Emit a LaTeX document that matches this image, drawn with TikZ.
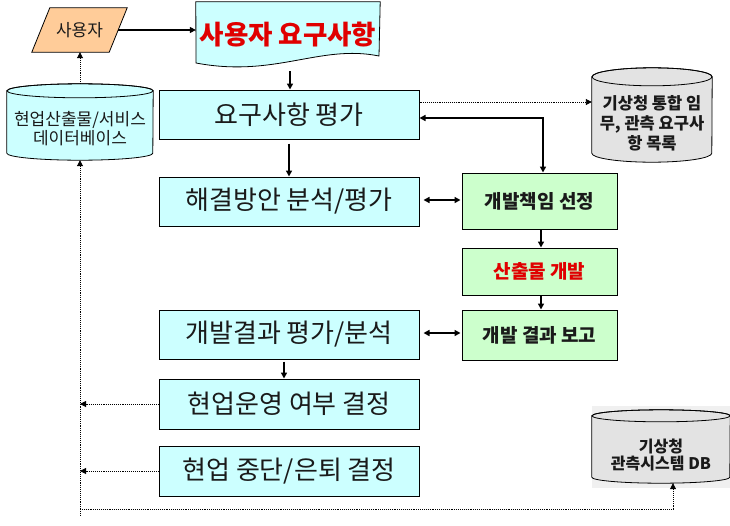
\documentclass[tikz,border=0pt]{standalone}
\usepackage{fontspec}
\setmainfont{Noto Sans CJK KR}
\usetikzlibrary{arrows.meta,backgrounds,calc}
\definecolor{cyanfill}{HTML}{CCFFFF}
\definecolor{greenfill}{HTML}{CCFFCC}
\definecolor{peach}{HTML}{FFCC99}
\definecolor{grayfill}{HTML}{E3E3E3}
\definecolor{redtext}{HTML}{E00000}
\definecolor{txt}{HTML}{1A1A1A}
\tikzset{
  box/.style={draw=black,line width=1pt,fill=cyanfill,inner sep=0pt,text=txt,font=\fontsize{26}{28}\selectfont},
  gbox/.style={draw=black,line width=1pt,fill=greenfill,inner sep=0pt,text=txt,font=\bfseries\fontsize{19}{21}\selectfont},
  plain/.style={inner sep=0pt,align=center,text=txt},
  arr/.style={line width=1.6pt,-{Triangle[length=6pt,width=6pt]}},
  darr/.style={line width=1.6pt,{Triangle[length=6pt,width=6pt]}-{Triangle[length=6pt,width=6pt]}},
  dotarr/.style={line width=0.9pt,densely dotted,-{Triangle[length=6pt,width=6pt]}},
  dotline/.style={line width=0.9pt,densely dotted},
}
\begin{document}
\begin{tikzpicture}[x=1pt,y=-1pt]
\useasboundingbox (0,0) rectangle (730,525);
% nodes
\node[plain,minimum width=95pt,minimum height=44pt,font=\fontsize{17}{19}\selectfont] (u) at (79.5,30) {사용자};
\node[plain,minimum width=184pt,minimum height=66pt,font=\bfseries\fontsize{26.5}{28}\selectfont,text=redtext] (doc) at (288,35) {\raisebox{3pt}{사용자 요구사항}};
\node[box,minimum width=260pt,minimum height=49pt] (req) at (289,114.5) {요구사항 평가};
\node[box,minimum width=260pt,minimum height=49pt] (sol) at (289,201.5) {해결방안 분석/평가};
\node[box,minimum width=260pt,minimum height=49pt] (evl) at (289,334.5) {개발결과 평가/분석};
\node[box,minimum width=260pt,minimum height=50pt] (opr) at (289,404) {현업운영 여부 결정};
\node[box,minimum width=260pt,minimum height=50pt] (stp) at (289,471) {현업 중단/은퇴 결정};
\node[gbox,minimum width=155pt,minimum height=56pt] (resp) at (539.5,201) {개발책임 선정};
\node[gbox,minimum width=155pt,minimum height=47pt,text=redtext] (prod) at (539.5,271.5) {산출물 개발};
\node[gbox,minimum width=155pt,minimum height=50pt] (rep) at (539.5,335) {개발 결과 보고};
\node[plain,minimum width=146pt,minimum height=76pt] (db1) at (80,122) {};
\node[plain,minimum width=120pt,minimum height=94pt] (db2) at (652,115) {};
\node[plain,minimum width=138pt,minimum height=73pt] (db3) at (661,446.5) {};
% shapes behind
\begin{scope}[on background layer]
  \fill[peach,draw=black,line width=0.8pt] ([xshift=18pt]u.north west) -- (u.north east) -- ([xshift=-18pt]u.south east) -- (u.south west) -- cycle;
  \draw[fill=cyanfill,line width=0.8pt] (doc.north west) -- (doc.north east) -- (379,56) .. controls (320,44) and (275,78) .. (196,63) -- cycle;
  % cylinder db1
  \draw[fill=cyanfill,line width=0.8pt] ([yshift=-7pt]db1.north west) -- ([yshift=7pt]db1.south west) arc[start angle=180,end angle=360,x radius=73pt,y radius=7pt] -- ([yshift=-7pt]db1.north east) arc[start angle=0,end angle=180,x radius=73pt,y radius=7pt] -- cycle;
  \draw[line width=0.8pt] ([yshift=-7pt]db1.north) ellipse[x radius=73pt,y radius=7pt];
  % cylinder db2
  \draw[fill=grayfill,line width=0.8pt] ([yshift=-9pt]db2.north west) -- ([yshift=9pt]db2.south west) arc[start angle=180,end angle=360,x radius=60pt,y radius=9pt] -- ([yshift=-9pt]db2.north east) arc[start angle=0,end angle=180,x radius=60pt,y radius=9pt] -- cycle;
  \draw[line width=0.8pt] ([yshift=-9pt]db2.north) ellipse[x radius=60pt,y radius=9pt];
  % cylinder db3
  \fill[black!6] (592,406) rectangle (730,488);
  \draw[fill=grayfill,line width=0.8pt] ([yshift=-6pt]db3.north west) -- ([yshift=6pt]db3.south west) arc[start angle=180,end angle=360,x radius=69pt,y radius=6pt] -- ([yshift=-6pt]db3.north east) arc[start angle=0,end angle=180,x radius=69pt,y radius=6pt] -- cycle;
  \draw[line width=0.8pt] ([yshift=-6pt]db3.north) ellipse[x radius=69pt,y radius=6pt];
\end{scope}
% cylinder labels
\node[plain,font=\fontsize{17}{19}\selectfont] (db1t) at ([yshift=-7pt]db1.center) {현업산출물/서비스\\데이터베이스};
\node[plain,font=\bfseries\fontsize{16.5}{20}\selectfont] (db2t) at ([yshift=-8pt]db2.center) {기상청 통합 임\\무, 관측 요구사\\항 목록};
\node[plain,font=\bfseries\fontsize{16}{17}\selectfont] (db3t) at ([yshift=-8.5pt]db3.center) {기상청\\관측시스템 DB};
% connectors
\draw[arr] ([xshift=-9pt]u.east) -- (u.east -| doc.west);
\draw[arr] ([xshift=2pt,yshift=-3pt]doc.south) -- ([xshift=2pt]doc.south |- req.north);
\draw[arr] ([yshift=-4pt]req.south) -- (sol.north);
\draw[darr] ([yshift=-3.5pt]req.east) -| ([xshift=3.5pt]resp.north);
\draw[dotarr] ([yshift=12.5pt]req.east) -- ([yshift=12.5pt]req.east -| db2.west);
\draw[darr,shorten <=4pt,shorten >=1pt] ([yshift=1.5pt]sol.east) -- ([yshift=1.5pt]sol.east -| resp.west);
\draw[arr] ([xshift=1.5pt]resp.south) -- ([xshift=1.5pt]prod.north);
\draw[arr] ([xshift=1.5pt]prod.south) -- ([xshift=1.5pt]rep.north);
\draw[darr,shorten <=4pt,shorten >=1pt] ([yshift=1.5pt]evl.east) -- ([yshift=1.5pt]evl.east -| rep.west);
\draw[arr] ([xshift=-5pt,yshift=-2pt]evl.south) -- ([xshift=-5pt]opr.north);
\draw[dotarr] (db1.north) -- (db1.north |- u.south);
\coordinate (bl) at (80,509);
\draw[dotline] (bl) -- ++(0,6);
\draw[dotarr] (bl) -- (bl |- db1.south);
\draw[dotarr] (bl) -| ([xshift=12pt]db3.south);
\draw[dotarr] (opr.west) -- (opr.west -| bl);
\draw[dotarr] (stp.west) -- (stp.west -| bl);
\end{tikzpicture}
\end{document}
